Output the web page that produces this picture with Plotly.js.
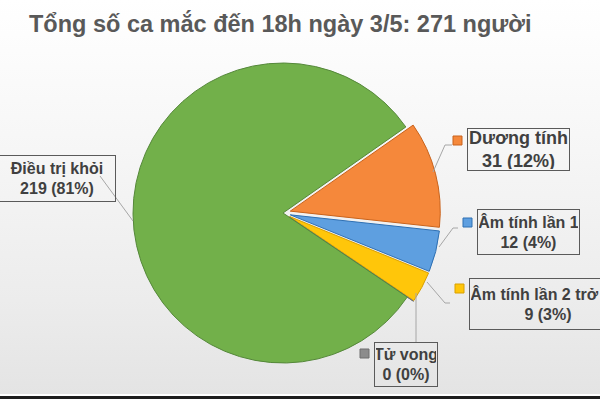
<!DOCTYPE html>
<html>
<head>
<meta charset="utf-8">
<script src="https://cdn.plot.ly/plotly-3.0.1.min.js"></script>
<style>
  html, body { margin: 0; padding: 0; }
  body { width: 600px; height: 399px; overflow: hidden;
    background: linear-gradient(to bottom, #ffffff 0px, #f6f6f6 150px, #ececec 300px, #e4e4e4 394px, #ffffff 394px, #ffffff 396px, #1e1e1e 396px, #1e1e1e 399px); }
  #chart { width: 600px; height: 399px; }
</style>
</head>
<body>
<div id="chart"></div>
<script>
// ---- data ----
const titleText = "Tổng số ca mắc đến 18h ngày 3/5: 271 người";
const categories = ["Dương tính", "Âm tính lần 1", "Âm tính lần 2 trở lên", "Tử vong", "Điều trị khỏi"];
const values = [31, 12, 9, 0, 219];
const percents = [12, 4, 3, 0, 81];

// ---- styles ----
const fillColors = ["#f5883b", "#5e9fe0", "#ffc60a", "#8c8c8c", "#72b04a"];
const edgeColors = ["#c9631c", "#2f70b3", "#d9a000", "#6e6e6e", "#55883a"];
const pulls = [0.05, 0.05, 0.05, 0.05, 0];

const W = 600, H = 399;
const px = x => x / W;
const py = y => 1 - y / H;

// label box geometry (pixel centres / sizes) and leader lines, per category
const boxGeom = [
  {cx: 518.5, cy: 149.5, w: 103, h: 43, fs: 18, key: [453, 136]},
  {cx: 528.5, cy: 232,   w: 103, h: 46, fs: 16, key: [463, 218]},
  {cx: 548,   cy: 304,   w: 158, h: 52, fs: 16, key: [455, 284]},
  {cx: 406,   cy: 364.5, w: 64,  h: 45, fs: 16, key: [360, 349]},
  {cx: 57,    cy: 178.5, w: 118, h: 47, fs: 16, key: [-20, 160]}
];
const leaders = [
  [[452, 145], [445, 145], [433, 172]],
  [[458, 228], [453, 228], [439, 247]],
  [[427, 282], [445, 303], [450, 303]],
  [[416, 293], [416, 342]],
  [[100, 176], [133, 221]]
];

const annotations = [{
  text: titleText, xref: "paper", yref: "paper", x: px(27), y: py(23),
  xanchor: "left", yanchor: "middle", showarrow: false,
  font: {family: "Liberation Sans, Arial, sans-serif", size: 23.5, color: "#595959", weight: "bold"}
}];
const shapes = [];

categories.forEach((name, i) => {
  const g = boxGeom[i];
  annotations.push({
    text: name + "<br>" + values[i] + " (" + percents[i] + "%)",
    xref: "paper", yref: "paper", x: px(g.cx), y: py(g.cy),
    xanchor: "center", yanchor: "middle", showarrow: false,
    width: g.w - 4, height: g.h - 4, borderpad: 1,
    bordercolor: "#5a5a5a", borderwidth: 1, align: "center", valign: "middle",
    font: {family: "Liberation Sans, Arial, sans-serif", size: g.fs, color: "#404040", weight: "bold"}
  });
  shapes.push({
    type: "rect", xref: "paper", yref: "paper",
    x0: px(g.key[0]), x1: px(g.key[0] + 9), y0: py(g.key[1]), y1: py(g.key[1] + 9),
    fillcolor: fillColors[i], line: {color: edgeColors[i], width: 1}
  });
  const pts = leaders[i];
  let path = "M " + px(pts[0][0]) + "," + py(pts[0][1]);
  for (let k = 1; k < pts.length; k++) path += " L " + px(pts[k][0]) + "," + py(pts[k][1]);
  shapes.push({type: "path", xref: "paper", yref: "paper", path: path,
    line: {color: "#a6a6a6", width: 1}});
});

const trace = {
  type: "pie",
  labels: categories,
  values: values,
  sort: false,
  direction: "clockwise",
  rotation: 55,
  pull: pulls,
  textinfo: "none",
  hoverinfo: "skip",
  marker: {colors: fillColors, line: {color: edgeColors, width: 1}},
  domain: {x: [px(125.5), px(440.5)], y: [py(370.5), py(55.5)]}
};

const layout = {
  width: W, height: H,
  margin: {l: 0, r: 0, t: 0, b: 0},
  paper_bgcolor: "rgba(0,0,0,0)",
  plot_bgcolor: "rgba(0,0,0,0)",
  showlegend: false,
  annotations: annotations,
  shapes: shapes
};

Plotly.newPlot("chart", [trace], layout, {displayModeBar: false, staticPlot: true});
</script>
</body>
</html>
